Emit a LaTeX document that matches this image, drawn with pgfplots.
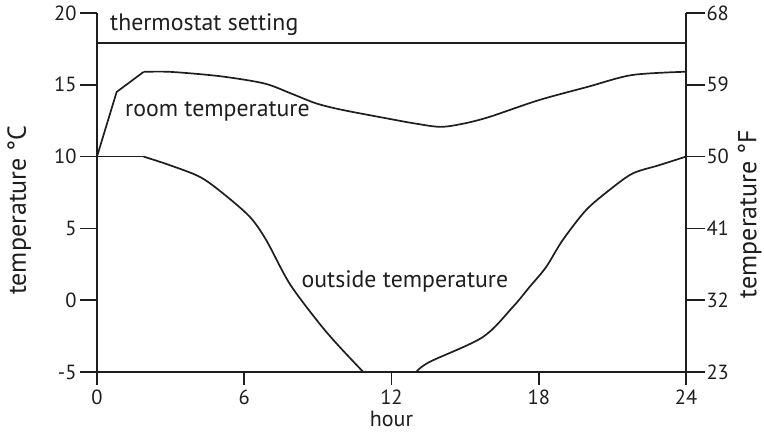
\documentclass[border=0pt]{standalone}
\usepackage{fontspec}
\setmainfont{PT Sans}
\usepackage{pgfplots}
\pgfplotsset{compat=1.18}
\definecolor{ink}{HTML}{1E1E1E}
\begin{document}
\begin{tikzpicture}
\pgfplotsset{
  common/.style={scale only axis, width=589pt, height=359pt,
    xmin=0, xmax=24,
    tick style={line width=1.5pt, ink},
    ticklabel style={font=\fontsize{20.5}{22}\selectfont, text=ink},
    clip=false}
}
% x axis and data
\begin{axis}[common, name=main,
  ymin=-5, ymax=20,
  axis x line=bottom, axis y line=none,
  axis line style={-, line width=1.5pt, ink},
  tick align=outside,
  major tick length=13pt,
  xtick={0,6,12,18,24}, xticklabels={0,6,12,18,24},
  xticklabel style={yshift=-1pt}]
\addplot[ink, line width=1.7pt] coordinates {(0,17.9) (24,17.9)};
% room temperature
\addplot[ink, line width=1.7pt] coordinates {(0,10) (0.8,14.5) (1.9,15.9)};
\addplot[ink, line width=1.7pt, smooth, tension=0.5] coordinates {
(1.9,15.9) (3,15.9) (5,15.6) (6.8,15.1) (7.9,14.4)
(8.94,13.7) (10,13.25) (12,12.6) (12.94,12.31) (14,12.07) (14.97,12.31)
(16,12.77) (18,13.93) (20,14.86) (21.8,15.68) (24,15.91)};
% outside temperature
\addplot[ink, line width=1.7pt] coordinates {(0,10) (1.9,10)};
\addplot[ink, line width=1.7pt, smooth, tension=0.5] coordinates {
(1.9,10) (2.97,9.4) (4.2,8.58) (5.14,7.43) (6.23,5.8) (6.9,4.17)
(7.85,1.15) (9.07,-1.64) (9.89,-3.26) (10.85,-5)};
\addplot[ink, line width=2.2pt] coordinates {(10.85,-5) (13,-5)};
\addplot[ink, line width=1.7pt, smooth, tension=0.5] coordinates {
(13,-5) (13.55,-4.3)
(15.72,-2.57) (16.94,-0.48) (17.62,0.91) (18.3,2.31) (18.97,4.17)
(19.92,6.26) (20.87,7.66) (21.82,8.82) (22.9,9.4) (24,10)};
\node[anchor=base west, inner sep=0, font=\fontsize{23.8}{25}\selectfont, text=ink] at (axis cs:0.53,18.77) {thermostat setting};
\node[anchor=base west, inner sep=0, font=\fontsize{23.8}{25}\selectfont, text=ink] at (axis cs:1.14,12.77) {room temperature};
\node[anchor=base west, inner sep=0, font=\fontsize{23.8}{25}\selectfont, text=ink] at (axis cs:8.33,0.91) {outside temperature};
\node[anchor=base, inner sep=0, font=\fontsize{22}{24}\selectfont, text=ink] at (axis description cs:0.5,-0.151) {hour};
\node[rotate=90, font=\fontsize{26}{28}\selectfont, text=ink] at (axis description cs:-0.132,0.451) {temperature °C};
\node[rotate=90, font=\fontsize{26}{28}\selectfont, text=ink] at (axis description cs:1.108,0.44) {temperature °F};
\end{axis}
% left y axis (Celsius)
\begin{axis}[common,
  ymin=-5, ymax=20,
  axis x line=none, axis y line=left,
  axis line style={-, line width=1.5pt, ink},
  tick align=outside,
  major tick length=17pt,
  ytick={-5,0,5,10,15,20}, yticklabels={-5,0,5,10,15,20}]
\end{axis}
% right y axis (Fahrenheit)
\begin{axis}[common,
  ymin=23, ymax=68,
  axis x line=none, axis y line=right,
  axis line style={-, line width=1.5pt, ink},
  tick align=outside,
  major tick length=19pt,
  ytick={23,32,41,50,59,68}, yticklabels={23,32,41,50,59,68},
  yticklabel style={xshift=-2pt}]
\end{axis}
\pgfresetboundingbox
\path (main.south west) +(-97pt,-61pt) rectangle +(667pt,372pt);
\end{tikzpicture}
\end{document}
